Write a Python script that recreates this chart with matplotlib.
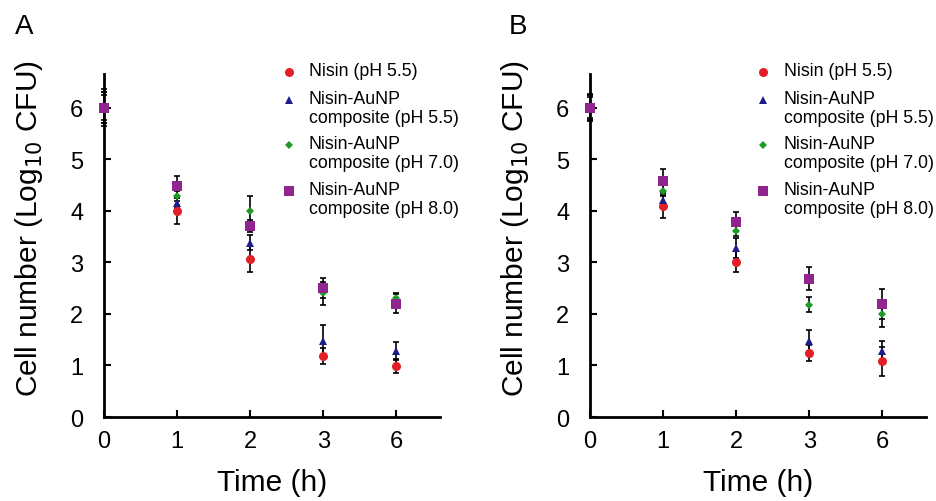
import numpy as np
import matplotlib.pyplot as plt
from matplotlib.lines import Line2D

plt.rcParams['font.family'] = ['Liberation Sans', 'DejaVu Sans']

times = ['0', '1', '2', '3', '6']
labels = ['Nisin (pH 5.5)', 'Nisin-AuNP\ncomposite (pH 5.5)',
          'Nisin-AuNP\ncomposite (pH 7.0)', 'Nisin-AuNP\ncomposite (pH 8.0)']

# panel A
a_nisin55 = [6.0, 4.00, 3.07, 1.18, 0.99]
a_comp55 = [6.0, 4.15, 3.38, 1.48, 1.28]
a_comp70 = [6.0, 4.28, 4.00, 2.40, 2.30]
a_comp80 = [6.0, 4.48, 3.70, 2.50, 2.20]
a_err_nisin55 = [0.35, 0.25, 0.25, 0.16, 0.14]
a_err_comp55 = [0.30, 0.10, 0.15, 0.30, 0.17]
a_err_comp70 = [0.30, 0.10, 0.28, 0.22, 0.10]
a_err_comp80 = [0.25, 0.20, 0.12, 0.20, 0.18]

# panel B
b_nisin55 = [6.0, 4.10, 3.01, 1.24, 1.08]
b_comp55 = [6.0, 4.21, 3.28, 1.48, 1.28]
b_comp70 = [6.0, 4.39, 3.60, 2.18, 2.00]
b_comp80 = [6.0, 4.58, 3.79, 2.68, 2.19]
b_err_nisin55 = [0.27, 0.24, 0.20, 0.15, 0.28]
b_err_comp55 = [0.25, 0.10, 0.20, 0.21, 0.20]
b_err_comp70 = [0.20, 0.10, 0.10, 0.14, 0.25]
b_err_comp80 = [0.25, 0.22, 0.19, 0.22, 0.29]

colors = ['#e41e26', '#1c1c8a', '#1f9a25', '#922490']
markers = ['o', '^', 'D', 's']
msizes = [6.5, 6.0, 4.5, 6.5]

fig = plt.figure(figsize=(9.37, 5.02), dpi=100)


def panel(rect, series, errs, letter, lx, leg_x):
    ax = fig.add_axes(rect)
    x = np.arange(len(times))
    for vals, err in zip(series, errs):
        ax.errorbar(x, vals, yerr=err, fmt='none', ecolor='black',
                    elinewidth=1.2, capsize=2.2, capthick=1.2, zorder=2,
                    clip_on=False)
    for i, vals in enumerate(series):
        ax.plot(x, vals, linestyle='none', marker=markers[i], color=colors[i],
                markersize=msizes[i], markeredgewidth=0, zorder=3,
                clip_on=False)
    ax.set_xlim(0, 4.6)
    ax.set_ylim(0, 6.65)
    ax.set_xticks(x)
    ax.set_xticklabels(times)
    ax.set_yticks(range(7))
    ax.tick_params(direction='in', length=5, width=1.5, labelsize=17)
    ax.tick_params(axis='x', pad=9)
    ax.tick_params(axis='y', pad=15)
    for s in ['top', 'right']:
        ax.spines[s].set_visible(False)
    for s in ['left', 'bottom']:
        ax.spines[s].set_linewidth(2)
    ax.set_xlabel('Time (h)', fontsize=21.5, labelpad=12)
    ax.set_ylabel('Cell number (Log$_{10}$ CFU)', fontsize=21.5)
    ax.yaxis.set_label_coords(-0.176, 0.551)
    fig.text(lx, 0.946, letter, fontsize=20, va='center', ha='left')

    # legend drawn by hand so markers sit on the first line
    ys = [1.006, 0.924, 0.793, 0.659]
    for i in range(4):
        ax.add_line(Line2D([leg_x], [ys[i]], transform=ax.transAxes,
                           marker=markers[i], color=colors[i],
                           markersize=msizes[i], markeredgewidth=0,
                           linestyle='none', clip_on=False))
        ax.text(leg_x + 0.06, ys[i] + 0.03, labels[i],
                transform=ax.transAxes, fontsize=12.8, va='top', ha='left',
                linespacing=1.2)
    return ax


panel([0.111, 0.1673, 0.3586, 0.6833],
      [a_nisin55, a_comp55, a_comp70, a_comp80],
      [a_err_nisin55, a_err_comp55, a_err_comp70, a_err_comp80], 'A', 0.016,
      0.55)
panel([0.6297, 0.1673, 0.3586, 0.6833],
      [b_nisin55, b_comp55, b_comp70, b_comp80],
      [b_err_nisin55, b_err_comp55, b_err_comp70, b_err_comp80], 'B', 0.543,
      0.516)

fig.savefig('out.png', dpi=100)
